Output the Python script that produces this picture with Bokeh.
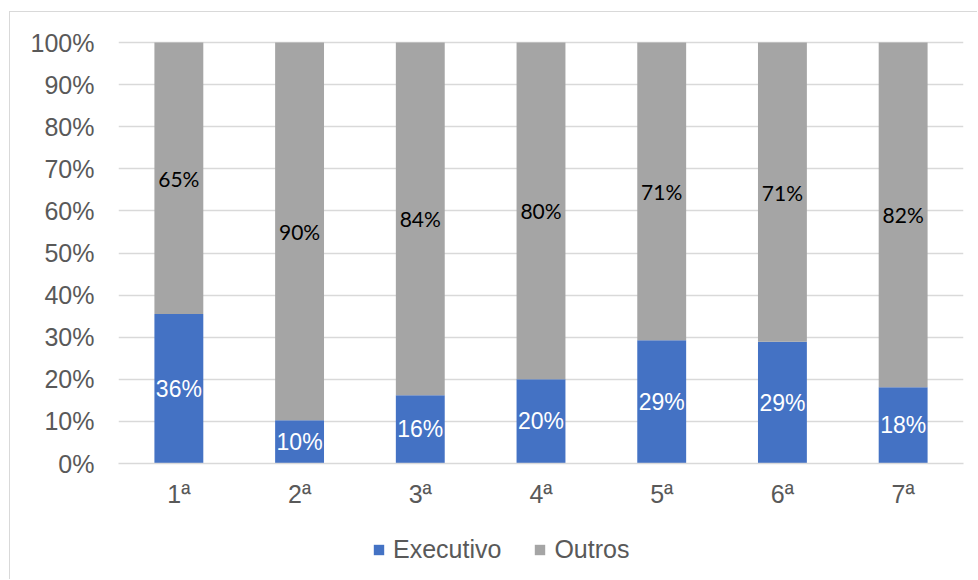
from bokeh.plotting import figure
from bokeh.layouts import column
from bokeh.models import (ColumnDataSource, FactorRange, Range1d, FixedTicker,
                          Legend, LegendItem)
from bokeh.core.properties import value
from bokeh.embed import file_html
from bokeh.resources import INLINE

# Share of each series per round (percent)
categories = ["1ª", "2ª", "3ª", "4ª", "5ª", "6ª", "7ª"]
executivo = [35.5, 10.3, 16.2, 20.0, 29.3, 28.9, 18.1]
outros = [100 - v for v in executivo]
series_names = ["Executivo", "Outros"]
y_ticks = [0, 10, 20, 30, 40, 50, 60, 70, 80, 90, 100]
y_tick_labels = ["0%", "10%", "20%", "30%", "40%", "50%", "60%", "70%", "80%", "90%", "100%"]

BLUE = "#4472C4"
GREY = "#A5A5A5"
GRID = "#D9D9D9"
TEXT = "#595959"
FONT = "Liberation Sans"


def pct(v):
    return "%d%%" % int(v + 0.5)


source = ColumnDataSource(dict(
    cat=categories,
    executivo=executivo,
    outros=outros,
    exec_mid=[v / 2 for v in executivo],
    outros_mid=[e + o / 2 for e, o in zip(executivo, outros)],
    exec_lbl=[pct(v) for v in executivo],
    outros_lbl=[pct(v) for v in outros],
))

# Main stacked-bar chart
p = figure(
    width=967, height=505,
    x_range=FactorRange(*categories),
    y_range=Range1d(0, 100 * 423 / 421),
    output_backend="svg", toolbar_location=None,
    min_border_left=108, min_border_right=14,
    min_border_top=28, min_border_bottom=54,
)
p.outline_line_color = None
p.background_fill_color = "white"
p.border_fill_color = "white"

bars = p.vbar_stack(["executivo", "outros"], x="cat", width=0.405,
                    color=[BLUE, GREY], line_color=None, source=source)

p.text(x="cat", y="exec_mid", text="exec_lbl", source=source,
       text_align="center", text_baseline="middle", text_color="white",
       text_font=value(FONT), text_font_size="23px")
p.text(x="cat", y="outros_mid", text="outros_lbl", source=source,
       text_align="center", text_baseline="middle", text_color="black",
       text_font=value("Lato"), text_font_size="21px")

p.xgrid.grid_line_color = None
p.ygrid.grid_line_color = GRID
p.ygrid.grid_line_width = 1.5
p.yaxis.ticker = FixedTicker(ticks=y_ticks)
p.yaxis.major_label_overrides = {t: l for t, l in zip(y_ticks, y_tick_labels)}
p.yaxis.axis_line_color = None
p.yaxis.minor_tick_line_color = None
p.yaxis.major_label_standoff = 24
p.xaxis.axis_line_color = GRID
p.xaxis.axis_line_width = 1.5
p.xaxis.major_label_standoff = 16
for ax in (p.xaxis, p.yaxis):
    ax.major_tick_line_color = None
    ax.major_tick_out = 0
    ax.major_tick_in = 0
    ax.major_label_text_font = FONT
    ax.major_label_text_font_size = "25px"
    ax.major_label_text_color = TEXT

# Legend strip under the chart; swatch colours come from two flat (zero-height) bars
lg = figure(
    width=967, height=62,
    x_range=Range1d(0, 1), y_range=Range1d(0, 1),
    x_axis_type=None, y_axis_type=None,
    output_backend="svg", toolbar_location=None,
    min_border=0,
)
lg.outline_line_color = None
lg.grid.visible = False
swatch_src = ColumnDataSource(dict(x=[0.5], top=[0.0]))
swatches = [lg.vbar(x="x", top="top", width=0.4, color=c, line_color=None, source=swatch_src)
            for c in (BLUE, GREY)]

legend = Legend(
    items=[LegendItem(label=n, renderers=[r]) for n, r in zip(series_names, swatches)],
    orientation="horizontal", location=(254, 15),
    glyph_width=13, glyph_height=13, label_standoff=8, spacing=32,
    label_text_font=FONT, label_text_font_size="25px",
    label_text_color=TEXT, border_line_color=None, background_fill_alpha=0,
    padding=0, margin=0,
)
lg.add_layout(legend, "center")

page = column(p, lg, spacing=0,
              styles={"margin-left": "9px", "margin-top": "11px",
                      "border-left": "1px solid #D9D9D9", "border-top": "1px solid #D9D9D9"})

open("out.html", "w").write(file_html(page, INLINE))
